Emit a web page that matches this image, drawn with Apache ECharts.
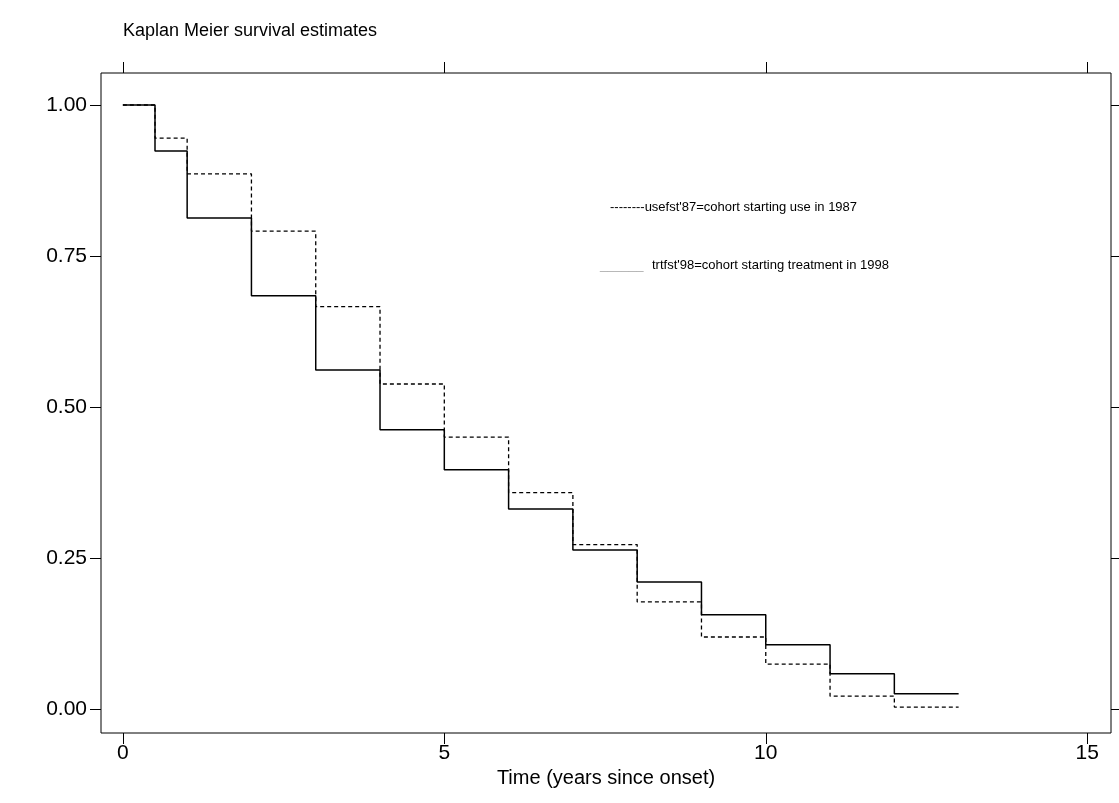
<!DOCTYPE html>
<html>
<head>
<meta charset="utf-8">
<script src="https://cdn.jsdelivr.net/npm/echarts@6/dist/echarts.min.js"></script>
<style>html,body{margin:0;padding:0;background:#fff}#c{width:1119px;height:803px}</style>
</head>
<body>
<div id="c"></div>
<script>
// time points (years) where the curves step
var times = [0, 0.5, 1, 2, 3, 4, 5, 6, 7, 8, 9, 10, 11, 12, 13];
// trtfst'98 (solid)
var trtSurv = [1, 0.924, 0.813, 0.684, 0.561, 0.462, 0.396, 0.331, 0.263, 0.210, 0.156, 0.106, 0.058, 0.025, 0.025];
// usefst'87 (dashed)
var useSurv = [1, 0.945, 0.886, 0.791, 0.666, 0.538, 0.450, 0.358, 0.272, 0.177, 0.119, 0.074, 0.021, 0.003, 0.003];
var xTicks = [0, 5, 10, 15];
var yTicks = [0, 0.25, 0.5, 0.75, 1];

function pairs(v) {
	return times.map(function(t, i) { return [t, v[i]]; });
}

var font = 'Liberation Sans, Arial, sans-serif';
var tickStyle = { show: true, inside: false, length: 11, lineStyle: { color: '#000', width: 1 } };
var noLine = { show: false, onZero: false };

var chart = echarts.init(document.getElementById('c'));
chart.setOption({
	animation: false,
	title: {
		text: 'Kaplan Meier survival estimates', left: 118, top: 17,
		textStyle: { fontFamily: font, fontSize: 18, fontWeight: 'normal', color: '#000' }
	},
	grid: { left: 101, right: 8, top: 73, bottom: 70, show: true, borderColor: '#000', borderWidth: 1 },
	xAxis: [{
		type: 'value', min: -0.34, max: 15.37,
		axisLine: noLine, splitLine: { show: false },
		axisTick: Object.assign({ customValues: xTicks }, tickStyle),
		axisLabel: { customValues: xTicks, fontFamily: font, fontSize: 21, color: '#000', margin: 10 },
		name: 'Time (years since onset)', nameLocation: 'middle', nameGap: 22,
		nameTextStyle: { fontFamily: font, fontSize: 20, color: '#000' }
	}, {
		type: 'value', position: 'top', min: -0.34, max: 15.37,
		axisLine: noLine, splitLine: { show: false },
		axisTick: Object.assign({ customValues: xTicks }, tickStyle),
		axisLabel: { show: false }
	}],
	yAxis: [{
		type: 'value', min: -0.04, max: 1.053,
		axisLine: noLine, splitLine: { show: false },
		axisTick: Object.assign({ customValues: yTicks }, tickStyle),
		axisLabel: {
			customValues: yTicks, fontFamily: font, fontSize: 21, color: '#000', margin: 14,
			formatter: function(v) { return v.toFixed(2); }
		}
	}, {
		type: 'value', position: 'right', min: -0.04, max: 1.053,
		axisLine: noLine, splitLine: { show: false },
		axisTick: Object.assign({ customValues: yTicks }, tickStyle),
		axisLabel: { show: false }
	}],
	series: [{
		name: "usefst'87", type: 'line', step: 'end', data: pairs(useSurv),
		symbol: 'none', lineStyle: { color: '#000', width: 1.3, type: [4, 3] }
	}, {
		name: "trtfst'98", type: 'line', step: 'end', data: pairs(trtSurv),
		symbol: 'none', lineStyle: { color: '#000', width: 1.5 }
	}],
	graphic: [{
		type: 'text', left: 610, top: 201,
		style: { text: "--------usefst'87=cohort starting use in 1987", font: '13px ' + font, fill: '#000' }
	}, {
		type: 'text', left: 600, top: 259,
		style: { text: "______", font: '13px ' + font, fill: '#aaa' }
	}, {
		type: 'text', left: 652, top: 259,
		style: { text: "trtfst'98=cohort starting treatment in 1998", font: '13px ' + font, fill: '#000' }
	}]
});
</script>
</body>
</html>
